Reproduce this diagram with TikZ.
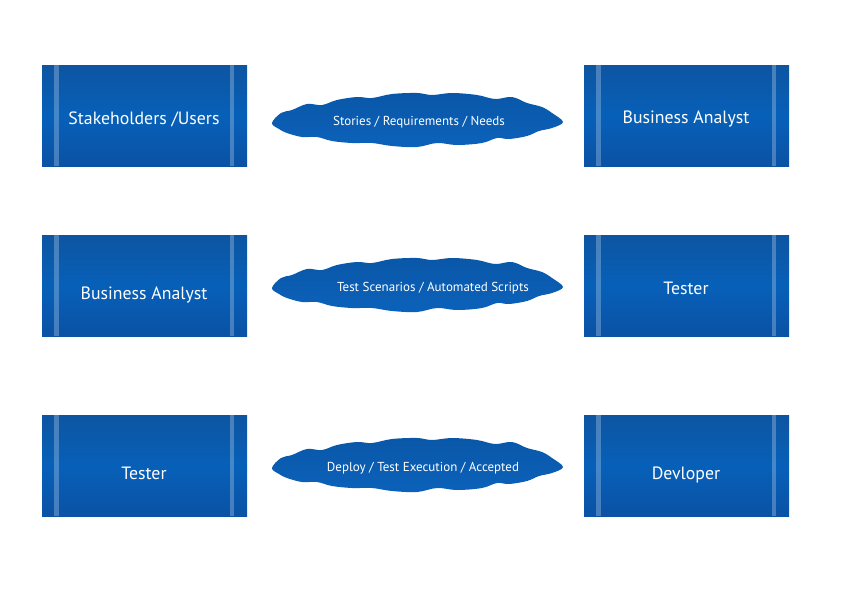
\documentclass[tikz,border=0pt]{standalone}
\usepackage{fontspec}
\setmainfont{PT Sans}
\definecolor{boxtop}{HTML}{0D55A2}
\definecolor{boxmid}{HTML}{0760B8}
\definecolor{boxbot}{HTML}{0A52A5}
\definecolor{cloudtop}{HTML}{0A57A8}
\definecolor{cloudbot}{HTML}{0B62BA}
\tikzset{
    actorbox/.style={rectangle, minimum width=205, minimum height=101, inner sep=0,
        top color=boxtop, bottom color=boxbot, middle color=boxmid,
        path picture={
            \fill[white, opacity=0.25] ([xshift=12]path picture bounding box.south west) rectangle ([xshift=16.5]path picture bounding box.north west);
            \fill[white, opacity=0.25] ([xshift=-17.5]path picture bounding box.south east) rectangle ([xshift=-13]path picture bounding box.north east);
        }},
    actortext/.style={text=white, font=\fontsize{17.8}{20}\selectfont, text height=12.5, text depth=3.5},
    cloudtext/.style={text=white, font=\fontsize{13}{15}\selectfont, text height=9, text depth=2.5},
    pics/flowcloud/.style={code={
        \shade[top color=cloudtop, bottom color=cloudbot] plot[smooth cycle, tension=0.6] coordinates {
            (-145,2) (-136,-8) (-125,-11) (-110,-17) (-95,-16) (-80,-21) (-60,-24)
            (-45,-23) (-25,-27) (0,-28) (15,-26) (35,-28) (60,-26) (78,-22)
            (95,-24) (110,-18) (125,-14) (135,-8) (146,1)
            (135,7) (122,10) (110,15) (92,18) (80,17) (65,22) (40,24)
            (20,22) (0,26) (-25,25) (-45,22) (-65,22) (-85,20) (-100,16)
            (-115,16) (-130,12) (-138,8)};
    }}
}
\begin{document}
\begin{tikzpicture}[x=1pt, y=-1pt]
    \useasboundingbox (0,0) rectangle (846,592);
    % left column
    \node[actorbox] (stakebox) at (144.5,115.5) {};
    \node[actorbox] (analystboxl) at (144.5,285.5) {};
    \node[actorbox] (testerboxl) at (144.5,465.5) {};
    % right column
    \node[actorbox] (analystboxr) at (686.5,115.5) {};
    \node[actorbox] (testerboxr) at (686.5,285.5) {};
    \node[actorbox] (devbox) at (686.5,465.5) {};
    % clouds
    \pic at (417,121) {flowcloud};
    \pic at (417,286) {flowcloud};
    \pic at (417,466) {flowcloud};
    % labels
    \node[actortext] (stake) at (144,120) {Stakeholders /Users};
    \node[actortext] (analystl) at (144,295) {Business Analyst};
    \node[actortext] (testerl) at (144,475) {Tester};
    \node[actortext] (analystr) at (686,119) {Business Analyst};
    \node[actortext] (testerr) at (686,290) {Tester};
    \node[actortext] (dev) at (686,475) {Devloper};
    \node[cloudtext] (stories) at (419,122) {Stories / Requirements / Needs};
    \node[cloudtext] (scenarios) at (433,288) {Test Scenarios / Automated Scripts};
    \node[cloudtext] (deploy) at (423,468) {Deploy / Test Execution / Accepted};
\end{tikzpicture}
\end{document}
